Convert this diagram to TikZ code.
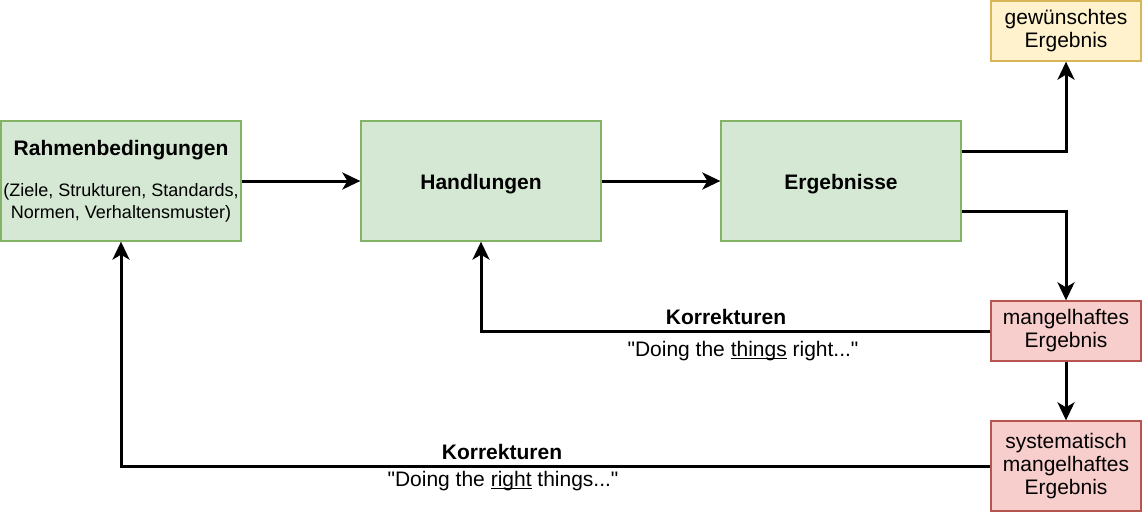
\documentclass[tikz,border=0pt]{standalone}
\usepackage{fontspec}
\setmainfont{Liberation Sans}[Ligatures=TeXOff]
\usetikzlibrary{arrows.meta}
\definecolor{gruenfill}{HTML}{D5E8D4}
\definecolor{gruendraw}{HTML}{82B366}
\definecolor{gelbfill}{HTML}{FFF2CC}
\definecolor{gelbdraw}{HTML}{D6B656}
\definecolor{rotfill}{HTML}{F8CECC}
\definecolor{rotdraw}{HTML}{B85450}
% Unterstreichung dicht an der Grundlinie
\newcommand{\unterstr}[1]{\setbox0\hbox{#1}\rlap{\rule[-2.5pt]{\wd0}{1.3pt}}#1}
\tikzset{
  kasten/.style={line width=1.3pt, inner sep=0pt, align=center, execute at begin node={\rule{0pt}{21pt}}},
  gruenbox/.style={kasten, draw=gruendraw, fill=gruenfill, minimum width=240pt, minimum height=120pt},
  gelbbox/.style={kasten, draw=gelbdraw, fill=gelbfill, minimum width=150pt, minimum height=60pt},
  rotbox/.style={kasten, draw=rotdraw, fill=rotfill, minimum width=150pt, minimum height=60pt},
  pfeil/.style={line width=3pt, -{Stealth[length=18pt, width=17pt, inset=5pt]}},
  txt/.style={inner sep=0pt, align=center}
}
\begin{document}
\begin{tikzpicture}[x=1pt, y=-1pt, font=\fontsize{21}{23}\selectfont]
\useasboundingbox (0,0) rectangle (1142,512);
% Hauptkette
\node[gruenbox, execute at begin node={\rule{0pt}{27pt}}] (rahmen) at (121,181) {\textbf{Rahmenbedingungen}\\[18pt]
  {\fontsize{18}{20}\selectfont (Ziele, Strukturen, Standards,}\\[-1.5pt]
  {\fontsize{18}{20}\selectfont Normen, Verhaltensmuster)}};
\node[gruenbox] (handlungen) at (481,181) {\textbf{Handlungen}};
\node[gruenbox] (ergebnisse) at (841,181) {\textbf{Ergebnisse}};
% Ergebnisboxen rechts
\node[gelbbox] (gewuenscht) at (1066,31) {gewünschtes\\Ergebnis};
\node[rotbox] (mangel) at (1066,331) {mangelhaftes\\Ergebnis};
\node[rotbox, minimum height=90pt] (system) at (1066,466) {systematisch\\mangelhaftes\\Ergebnis};
% Pfeile
\draw[pfeil] (rahmen) -- (handlungen);
\draw[pfeil] (handlungen) -- (ergebnisse);
\draw[pfeil] ([yshift=30pt]ergebnisse.east) -| (gewuenscht.south);
\draw[pfeil] ([yshift=-30pt]ergebnisse.east) -| (mangel.north);
\draw[pfeil] (mangel) -- (system);
% Korrekturschleifen
\draw[pfeil] (mangel.west) -| (handlungen.south);
\draw[pfeil] (system.west) -| (rahmen.south);
\node[txt] (korr1) at (726,317) {\textbf{Korrekturen}};
\node[txt] (zitat1) at (743,351) {"Doing the \unterstr{things} right..."};
\node[txt] (korr2) at (502,452) {\textbf{Korrekturen}};
\node[txt] (zitat2) at (503,481) {"Doing the \unterstr{right} things..."};
\end{tikzpicture}
\end{document}
